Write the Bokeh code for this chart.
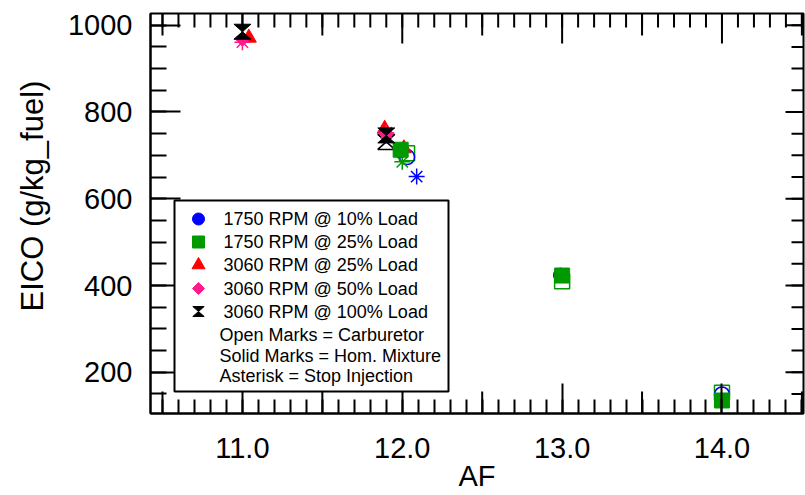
import numpy as np
from bokeh.plotting import figure
from bokeh.models import Range1d, FixedTicker, PrintfTickFormatter, BoxAnnotation, Label, Title
from bokeh.embed import file_html
from bokeh.resources import INLINE

# ---- legend / annotation texts ----
series_labels = ["1750 RPM @ 10% Load", "1750 RPM @ 25% Load", "3060 RPM @ 25% Load",
                 "3060 RPM @ 50% Load", "3060 RPM @ 100% Load"]
note_lines = ["Open Marks = Carburetor", "Solid Marks = Hom. Mixture",
              "Asterisk = Stop Injection"]
x_title = "AF"
y_title = "EICO (g/kg_fuel)"

# ---- axis ticks ----
af_ticks = [11.0, 12.0, 13.0, 14.0]
eico_ticks = [200, 400, 600, 800, 1000]

# ---- data: AF ratio vs EICO (g/kg fuel) ----
# 1750 RPM @ 10% load (blue circles)
r1750_10_solid_af = [11.99, 12.99]
r1750_10_solid_eico = [711, 424]
r1750_10_open_af = [12.03, 14.0]
r1750_10_open_eico = [696, 149]
r1750_10_stop_af = [12.09]
r1750_10_stop_eico = [651]
# 1750 RPM @ 25% load (green squares)
r1750_25_solid_af = [11.99, 13.0, 14.0]
r1750_25_solid_eico = [713, 423, 135]
r1750_25_open_af = [12.03, 13.0, 14.0]
r1750_25_open_eico = [705, 410, 153]
r1750_25_stop_af = [12.0]
r1750_25_stop_eico = [685]
# 3060 RPM @ 25% load (red triangles)
r3060_25_solid_af = [11.04, 11.89, 12.01]
r3060_25_solid_eico = [971, 761, 716]
# 3060 RPM @ 50% load (pink diamonds)
r3060_50_solid_af = [11.0, 11.9]
r3060_50_solid_eico = [968, 749]
r3060_50_stop_af = [11.0, 11.9]
r3060_50_stop_eico = [961, 752]
# 3060 RPM @ 100% load (black hourglasses)
r3060_100_solid_af = [11.0, 11.9]
r3060_100_solid_eico = [985, 746]
r3060_100_open_af = [11.9]
r3060_100_open_eico = [731]

BLUE, GREEN, RED, PINK, BLACK = "#0000ff", "#009a00", "#ff0000", "#ff1a8c", "#000000"
FONT = "Liberation Sans"

# ---- plot geometry ----
X0, X1 = 10.425, 14.51
Y0, Y1 = 105, 1027
W, H = 805, 495
BL, BR, BT, BB = 150, 2, 13, 82
FW, FH = W - BL - BR, H - BT - BB
DX = (X1 - X0) / FW   # data units per pixel
DY = (Y1 - Y0) / FH


def px_x(sx):
    return X0 + (sx - BL) * DX


def px_y(sy):
    return Y1 - (sy - BT) * DY


def hourglass(xs, ys, hw, hh):
    """Two tip-to-tip triangles around each centre, sized in pixels."""
    px, py = [], []
    for x, y in zip(xs, ys):
        px.append([x - hw * DX, x + hw * DX, x - hw * DX, x + hw * DX])
        py.append([y + hh * DY, y + hh * DY, y - hh * DY, y - hh * DY])
    return px, py


p = figure(width=W, height=H, x_range=Range1d(X0, X1), y_range=Range1d(Y0, Y1),
           output_backend="svg", toolbar_location=None,
           min_border_left=BL, min_border_right=BR, min_border_top=BT,
           min_border_bottom=BB, background_fill_color="white",
           border_fill_color="white")
p.xgrid.visible = False
p.ygrid.visible = False
p.outline_line_color = "black"
p.outline_line_width = 2

minor_af = [round(v, 1) for v in np.arange(10.5, 14.51, 0.1)]
half_af = [10.5, 11.5, 12.5, 13.5, 14.5]
minor_eico = list(range(150, 1001, 50))


def style_axis(ax, major_len, minor_len):
    ax.axis_line_color = "black"
    ax.axis_line_width = 2
    ax.major_tick_in = major_len
    ax.major_tick_out = 0
    ax.minor_tick_in = minor_len
    ax.minor_tick_out = 0
    ax.major_tick_line_width = 2
    ax.minor_tick_line_width = 2
    ax.major_tick_line_color = "black"
    ax.minor_tick_line_color = "black"
    ax.major_label_text_font = FONT
    ax.major_label_text_font_size = "29px"
    ax.major_label_text_color = "black"
    ax.axis_label_text_font = FONT
    ax.axis_label_text_font_size = "29px"
    ax.axis_label_text_font_style = "normal"
    ax.axis_label_text_color = "black"


xa = p.xaxis[0]
xa.ticker = FixedTicker(ticks=af_ticks, minor_ticks=minor_af)
xa.formatter = PrintfTickFormatter(format="%.1f")
style_axis(xa, 30, 14)
xa.major_label_standoff = 24
xa.axis_label = x_title
xa.axis_label_standoff = -1

ya = p.yaxis[0]
ya.ticker = FixedTicker(ticks=eico_ticks, minor_ticks=minor_eico)
style_axis(ya, 30, 16)
ya.major_label_standoff = 18
ya.axis_label = None

# y-axis title, starting about a quarter of the way up the frame
p.add_layout(Title(text=y_title, align="left", vertical_align="top", offset=102,
                   standoff=26, text_font=FONT, text_font_size="31px",
                   text_font_style="normal", text_color="black"), "left")

# inward ticks on the top and right frame edges, plus half-unit AF ticks
tick = dict(length_units="screen", angle_units="deg", line_color="black", line_width=2)
p.ray(x=half_af, y=[Y0] * len(half_af), length=22, angle=90, **tick)
p.ray(x=half_af, y=[Y1] * len(half_af), length=22, angle=-90, **tick)
p.ray(x=minor_af, y=[Y1] * len(minor_af), length=14, angle=-90, **tick)
p.ray(x=af_ticks, y=[Y1] * len(af_ticks), length=30, angle=-90, **tick)
p.ray(x=[X1] * len(minor_eico), y=minor_eico, length=12, angle=180, **tick)
p.ray(x=[X1] * len(eico_ticks), y=eico_ticks, length=18, angle=180, **tick)

# ---- open marks (carburetor) ----
p.scatter(r1750_25_open_af, r1750_25_open_eico, marker="square", size=15,
          fill_color=None, line_color=GREEN, line_width=1.5)
p.scatter(r1750_10_open_af, r1750_10_open_eico, marker="circle", size=15,
          fill_color=None, line_color=BLUE, line_width=1.5)
hx, hy = hourglass(r3060_100_open_af, r3060_100_open_eico, 8.5, 7.5)
p.patches(hx, hy, fill_color=None, line_color=BLACK, line_width=1.5)

# ---- asterisks (stop injection) ----
p.scatter(r1750_10_stop_af, r1750_10_stop_eico, marker="asterisk", size=16,
          line_color=BLUE, line_width=1.5)
p.scatter(r1750_25_stop_af, r1750_25_stop_eico, marker="asterisk", size=16,
          line_color=GREEN, line_width=1.5)

# ---- solid marks (homogeneous mixture) ----
p.scatter(r1750_10_solid_af, r1750_10_solid_eico, marker="circle", size=14,
          fill_color=BLUE, line_color=BLUE)
p.scatter(r3060_25_solid_af, r3060_25_solid_eico, marker="triangle", size=15,
          fill_color=RED, line_color=RED)
p.scatter(r3060_50_solid_af, r3060_50_solid_eico, marker="square", size=10,
          angle=np.pi / 4, fill_color=PINK, line_color=PINK)
p.scatter(r3060_50_stop_af, r3060_50_stop_eico, marker="asterisk", size=16,
          line_color=PINK, line_width=1.5)
p.scatter(r1750_25_solid_af, r1750_25_solid_eico, marker="square", size=15,
          fill_color=GREEN, line_color=GREEN)
hx, hy = hourglass(r3060_100_solid_af, r3060_100_solid_eico, 8.5, 7.5)
p.patches(hx, hy, fill_color=BLACK, line_color=BLACK, line_width=1)

# ---- legend box ----
box = BoxAnnotation(left=px_x(174), right=px_x(448), top=px_y(200), bottom=px_y(391),
                    fill_color="white", fill_alpha=1.0, line_color="black",
                    line_width=2, line_alpha=1.0)
p.add_layout(box)

row_y = [218.5, 241.5, 264.5, 288, 311]
mx = px_x(198)
legend_marks = [("circle", BLUE, 12, 0.0), ("square", GREEN, 12, 0.0),
                ("triangle", RED, 13, 0.0), ("square", PINK, 8.5, np.pi / 4)]
for (mk, col, sz, ang), sy in zip(legend_marks, row_y):
    r = p.scatter([mx], [px_y(sy)], marker=mk, size=sz, angle=ang,
                  fill_color=col, line_color=col)
    r.level = "overlay"
hx, hy = hourglass([mx], [px_y(row_y[4])], 5.7, 5.0)
r = p.patches(hx, hy, fill_color=BLACK, line_color=BLACK, line_width=1)
r.level = "overlay"

for txt, sy in zip(series_labels, row_y):
    p.add_layout(Label(x=px_x(223), y=px_y(sy), text=txt, text_baseline="middle",
                       text_font=FONT, text_font_size="18px", text_color="black",
                       level="overlay"))
for txt, sy in zip(note_lines, [334.5, 355.5, 375.5]):
    p.add_layout(Label(x=px_x(219), y=px_y(sy), text=txt, text_baseline="middle",
                       text_font=FONT, text_font_size="18px", text_color="black",
                       level="overlay"))

open("out.html", "w").write(file_html(p, INLINE))
